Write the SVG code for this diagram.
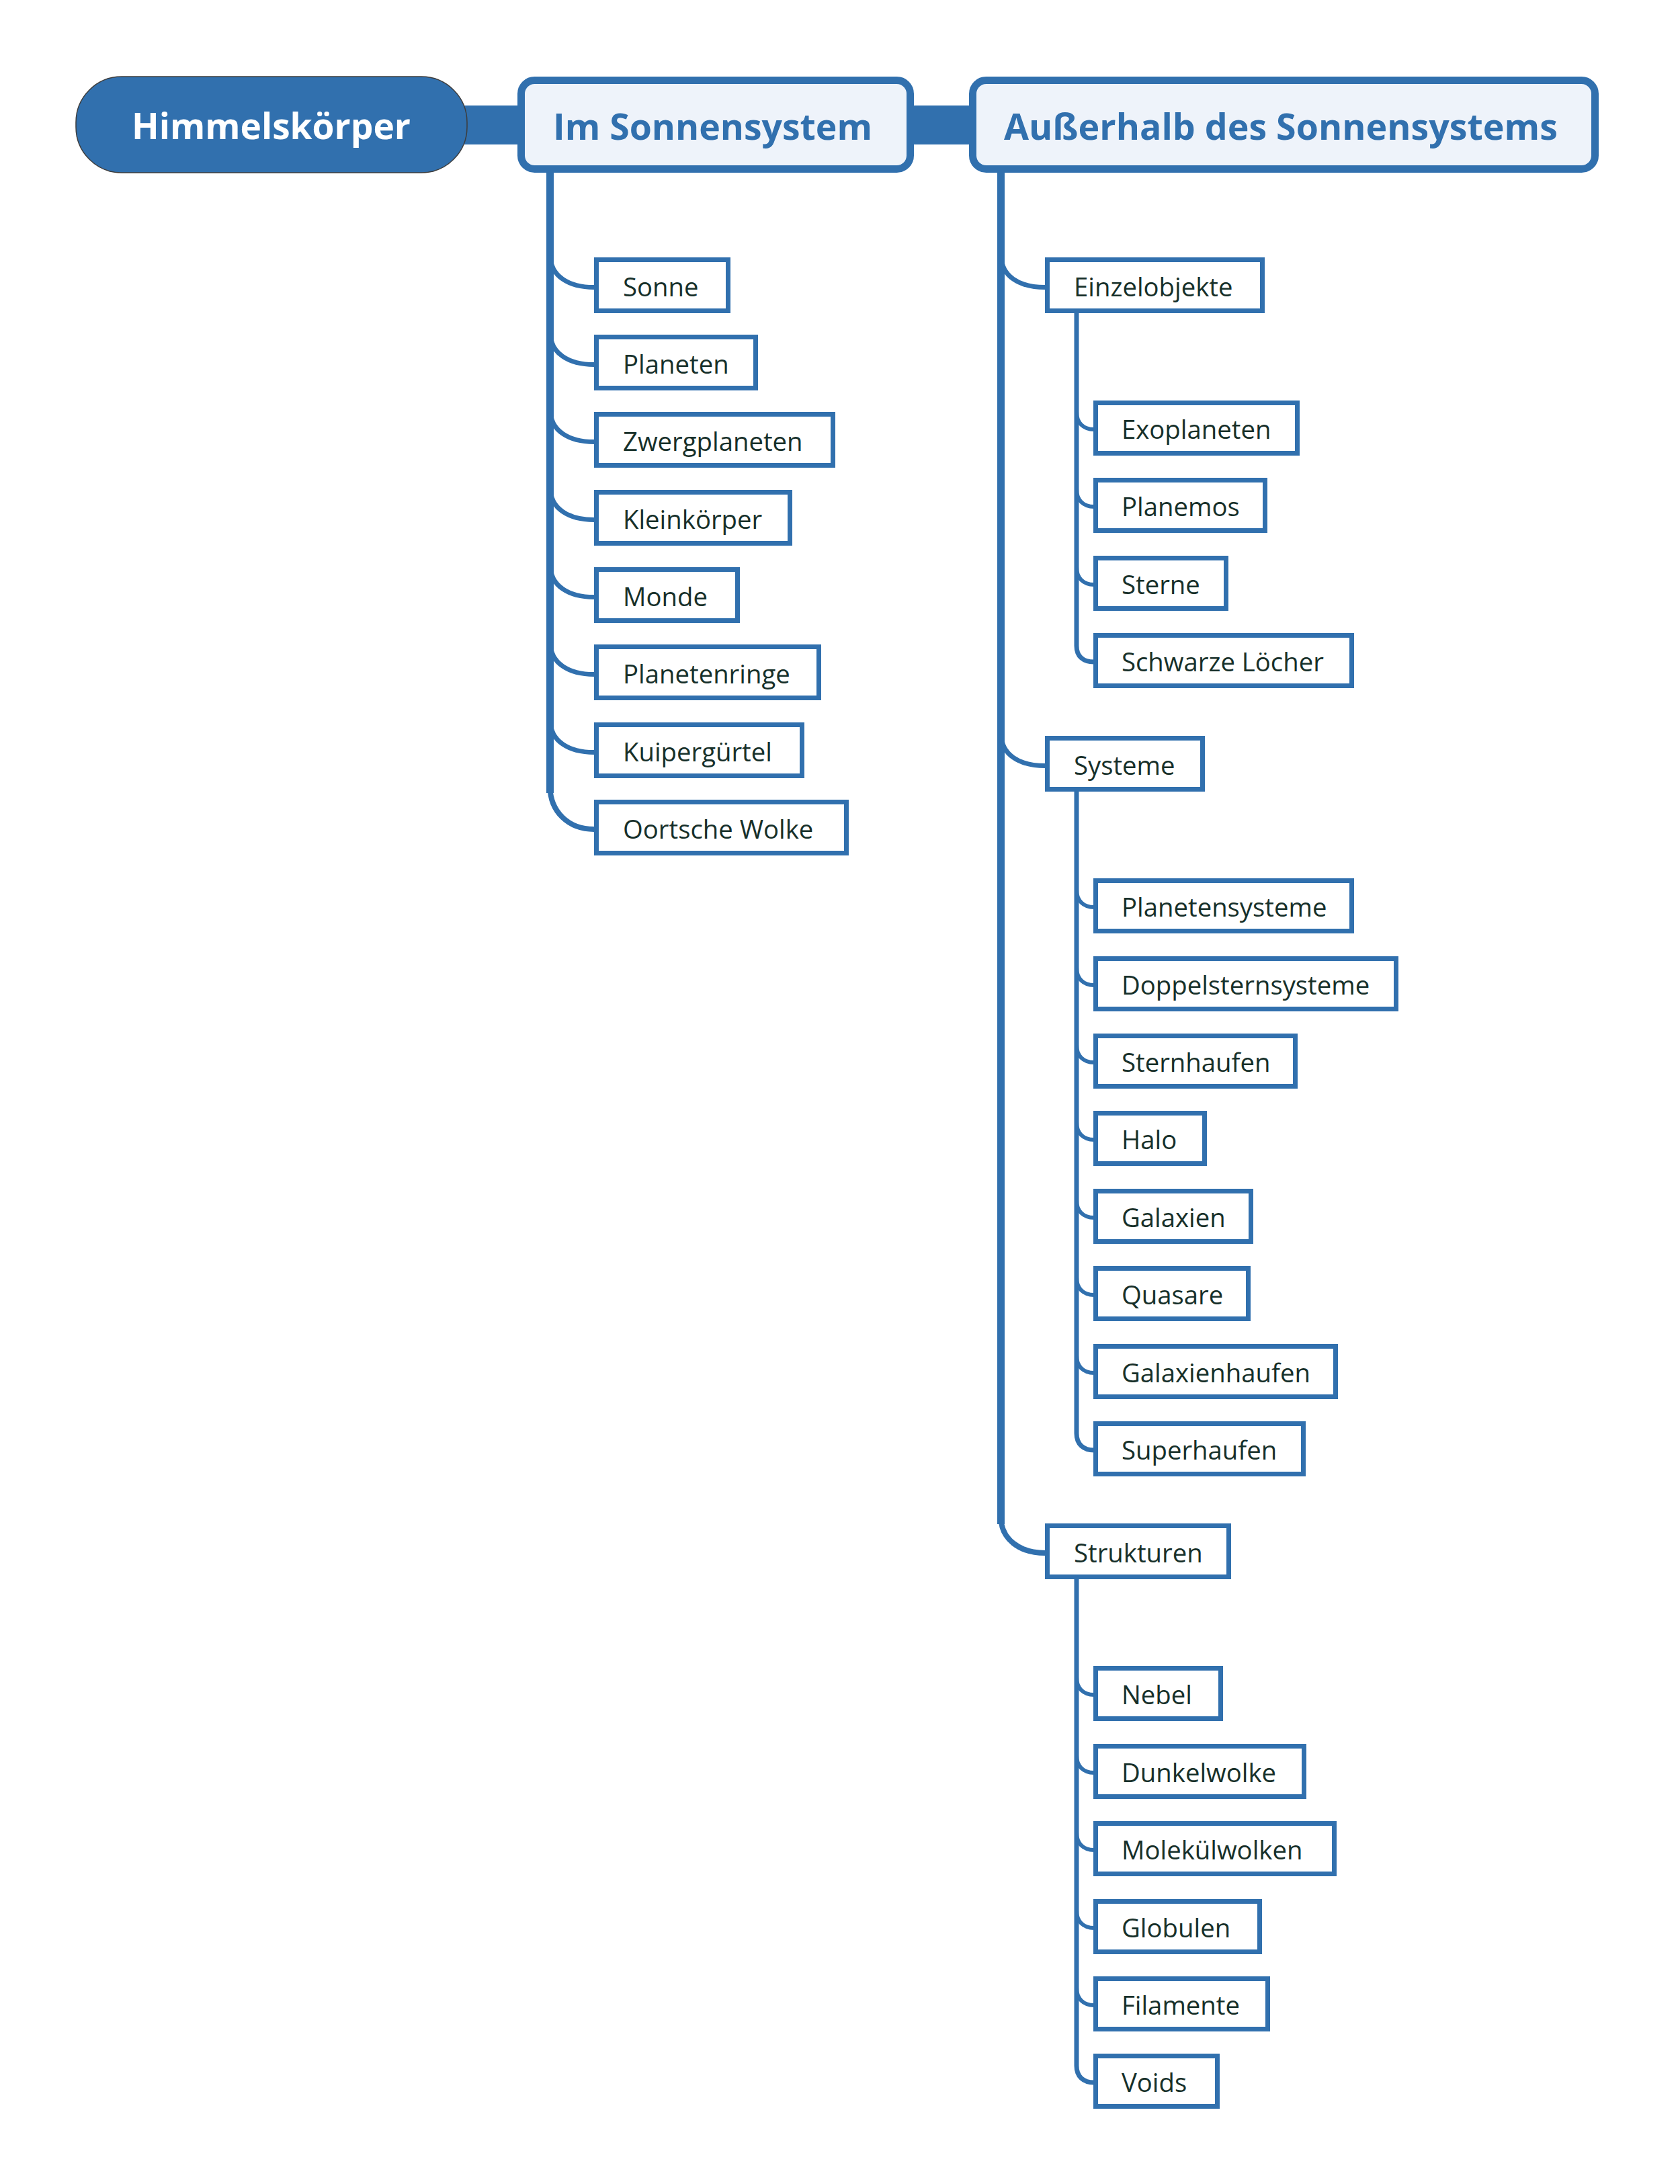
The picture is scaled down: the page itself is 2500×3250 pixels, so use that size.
<svg xmlns="http://www.w3.org/2000/svg" width="2500" height="3250" viewBox="0 0 2500 3250">
<style>
.c{fill:none;stroke:#3170AE;stroke-linecap:butt}
.l{stroke-width:11}
.s{stroke-width:7}
.b{stroke-width:7}
.k{stroke-width:6}
.box{fill:#fff;stroke:#3170AE;stroke-width:7}
.top{fill:#EEF3FA;stroke:#3170AE;stroke-width:11}
.t{font-family:"Open Sans","Noto Sans","DejaVu Sans",sans-serif;font-size:38.3px;fill:#17302A}
.h{font-family:"Open Sans","Noto Sans","DejaVu Sans",sans-serif;font-size:54px;font-weight:700}
</style>
<rect width="2500" height="3250" fill="#fff"/>
<g id="connectors">
<rect x="690" y="157" width="760" height="58" fill="#3170AE"/>
<path class="c l" d="M818.5 250 V1180"/>
<path class="c" stroke-width="8" d="M818.5 1170 C818.5 1208 846 1234 884 1234"/>
<path class="c b" d="M819 380.5 C819 410.5 846 427.5 884 427.5"/>
<path class="c b" d="M819 495.5 C819 525.5 846 542.5 884 542.5"/>
<path class="c b" d="M819 610.5 C819 640.5 846 657.5 884 657.5"/>
<path class="c b" d="M819 726.5 C819 756.5 846 773.5 884 773.5"/>
<path class="c b" d="M819 841.5 C819 871.5 846 888.5 884 888.5"/>
<path class="c b" d="M819 956.5 C819 986.5 846 1003.5 884 1003.5"/>
<path class="c b" d="M819 1072.5 C819 1102.5 846 1119.5 884 1119.5"/>
<path class="c l" d="M1489.5 250 V2268"/>
<path class="c" stroke-width="8" d="M1489.5 2258 C1489.5 2290 1517 2311 1555 2311"/>
<path class="c b" d="M1490 380.5 C1490 410.5 1516 427.5 1555 427.5"/>
<path class="c b" d="M1490 1092.5 C1490 1122.5 1516 1139.5 1555 1139.5"/>
<path class="c s" d="M1602 464 V961 C1602 977 1612 985 1628 985"/>
<path class="c k" d="M1602 613 C1602 629 1612 639 1628 639"/>
<path class="c k" d="M1602 728 C1602 744 1612 754 1628 754"/>
<path class="c k" d="M1602 844 C1602 860 1612 870 1628 870"/>
<path class="c s" d="M1602 1174 V2133 C1602 2149 1612 2158 1628 2158"/>
<path class="c k" d="M1602 1324 C1602 1340 1612 1350 1628 1350"/>
<path class="c k" d="M1602 1440 C1602 1456 1612 1466 1628 1466"/>
<path class="c k" d="M1602 1555 C1602 1571 1612 1581 1628 1581"/>
<path class="c k" d="M1602 1670 C1602 1686 1612 1696 1628 1696"/>
<path class="c k" d="M1602 1786 C1602 1802 1612 1812 1628 1812"/>
<path class="c k" d="M1602 1901 C1602 1917 1612 1927 1628 1927"/>
<path class="c k" d="M1602 2017 C1602 2033 1612 2043 1628 2043"/>
<path class="c s" d="M1602 2347 V3074 C1602 3090 1612 3099 1628 3099"/>
<path class="c k" d="M1602 2496 C1602 2512 1612 2522 1628 2522"/>
<path class="c k" d="M1602 2612 C1602 2628 1612 2638 1628 2638"/>
<path class="c k" d="M1602 2727 C1602 2743 1612 2753 1628 2753"/>
<path class="c k" d="M1602 2843 C1602 2859 1612 2869 1628 2869"/>
<path class="c k" d="M1602 2958 C1602 2974 1612 2984 1628 2984"/>
</g>
<g id="root">
<rect x="113" y="114" width="582" height="143" rx="68" ry="68" fill="#3170AE" stroke="#3d3d3d" stroke-width="1.5"/>
<text class="h" x="196" y="207" fill="#fff" textLength="415" lengthAdjust="spacingAndGlyphs">Himmelskörper</text>
</g>
<g id="im-sonnensystem">
<rect class="top" x="775.5" y="119.5" width="579" height="132" rx="20"/>
<text class="h" x="823" y="208" fill="#3170AE" textLength="475" lengthAdjust="spacingAndGlyphs">Im Sonnensystem</text>
</g>
<g id="ausserhalb">
<rect class="top" x="1447.5" y="119.5" width="926" height="132" rx="20"/>
<text class="h" x="1494" y="208" fill="#3170AE" textLength="824" lengthAdjust="spacingAndGlyphs">Außerhalb des Sonnensystems</text>
</g>
<g id="sonne"><rect class="box" x="887.5" y="386.5" width="196" height="76"/><text class="t" x="927" y="441">Sonne</text></g>
<g id="planeten"><rect class="box" x="887.5" y="501.5" width="237" height="76"/><text class="t" x="927" y="556">Planeten</text></g>
<g id="zwergplaneten"><rect class="box" x="887.5" y="616.5" width="352" height="76"/><text class="t" x="927" y="671">Zwergplaneten</text></g>
<g id="kleinkoerper"><rect class="box" x="887.5" y="732.5" width="288" height="76"/><text class="t" x="927" y="787">Kleinkörper</text></g>
<g id="monde"><rect class="box" x="887.5" y="847.5" width="210" height="76"/><text class="t" x="927" y="902">Monde</text></g>
<g id="planetenringe"><rect class="box" x="887.5" y="962.5" width="331" height="76"/><text class="t" x="927" y="1017">Planetenringe</text></g>
<g id="kuiperguertel"><rect class="box" x="887.5" y="1078.5" width="306" height="76"/><text class="t" x="927" y="1133">Kuipergürtel</text></g>
<g id="oortsche-wolke"><rect class="box" x="887.5" y="1193.5" width="372" height="76"/><text class="t" x="927" y="1248">Oortsche Wolke</text></g>
<g id="einzelobjekte"><rect class="box" x="1558.5" y="386.5" width="320" height="76"/><text class="t" x="1598" y="441">Einzelobjekte</text></g>
<g id="exoplaneten"><rect class="box" x="1630.5" y="599.5" width="300" height="75"/><text class="t" x="1669" y="653">Exoplaneten</text></g>
<g id="planemos"><rect class="box" x="1630.5" y="714.5" width="252" height="75"/><text class="t" x="1669" y="768">Planemos</text></g>
<g id="sterne"><rect class="box" x="1630.5" y="830.5" width="194" height="75"/><text class="t" x="1669" y="884">Sterne</text></g>
<g id="schwarze-loecher"><rect class="box" x="1630.5" y="945.5" width="381" height="75"/><text class="t" x="1669" y="999">Schwarze Löcher</text></g>
<g id="systeme"><rect class="box" x="1558.5" y="1098.5" width="231" height="76"/><text class="t" x="1598" y="1153">Systeme</text></g>
<g id="planetensysteme"><rect class="box" x="1630.5" y="1310.5" width="381" height="75"/><text class="t" x="1669" y="1364">Planetensysteme</text></g>
<g id="doppelsternsysteme"><rect class="box" x="1630.5" y="1426.5" width="447" height="75"/><text class="t" x="1669" y="1480">Doppelsternsysteme</text></g>
<g id="sternhaufen"><rect class="box" x="1630.5" y="1541.5" width="297" height="75"/><text class="t" x="1669" y="1595">Sternhaufen</text></g>
<g id="halo"><rect class="box" x="1630.5" y="1656.5" width="162" height="75"/><text class="t" x="1669" y="1710">Halo</text></g>
<g id="galaxien"><rect class="box" x="1630.5" y="1772.5" width="231" height="75"/><text class="t" x="1669" y="1826">Galaxien</text></g>
<g id="quasare"><rect class="box" x="1630.5" y="1887.5" width="227" height="75"/><text class="t" x="1669" y="1941">Quasare</text></g>
<g id="galaxienhaufen"><rect class="box" x="1630.5" y="2003.5" width="357" height="75"/><text class="t" x="1669" y="2057">Galaxienhaufen</text></g>
<g id="superhaufen"><rect class="box" x="1630.5" y="2118.5" width="309" height="75"/><text class="t" x="1669" y="2172">Superhaufen</text></g>
<g id="strukturen"><rect class="box" x="1558.5" y="2270.5" width="270" height="76"/><text class="t" x="1598" y="2325">Strukturen</text></g>
<g id="nebel"><rect class="box" x="1630.5" y="2482.5" width="186" height="75"/><text class="t" x="1669" y="2536">Nebel</text></g>
<g id="dunkelwolke"><rect class="box" x="1630.5" y="2598.5" width="310" height="75"/><text class="t" x="1669" y="2652">Dunkelwolke</text></g>
<g id="molekuelwolken"><rect class="box" x="1630.5" y="2713.5" width="355" height="75"/><text class="t" x="1669" y="2767">Molekülwolken</text></g>
<g id="globulen"><rect class="box" x="1630.5" y="2829.5" width="244" height="75"/><text class="t" x="1669" y="2883">Globulen</text></g>
<g id="filamente"><rect class="box" x="1630.5" y="2944.5" width="256" height="75"/><text class="t" x="1669" y="2998">Filamente</text></g>
<g id="voids"><rect class="box" x="1630.5" y="3059.5" width="181" height="75"/><text class="t" x="1669" y="3113">Voids</text></g>
</svg>
